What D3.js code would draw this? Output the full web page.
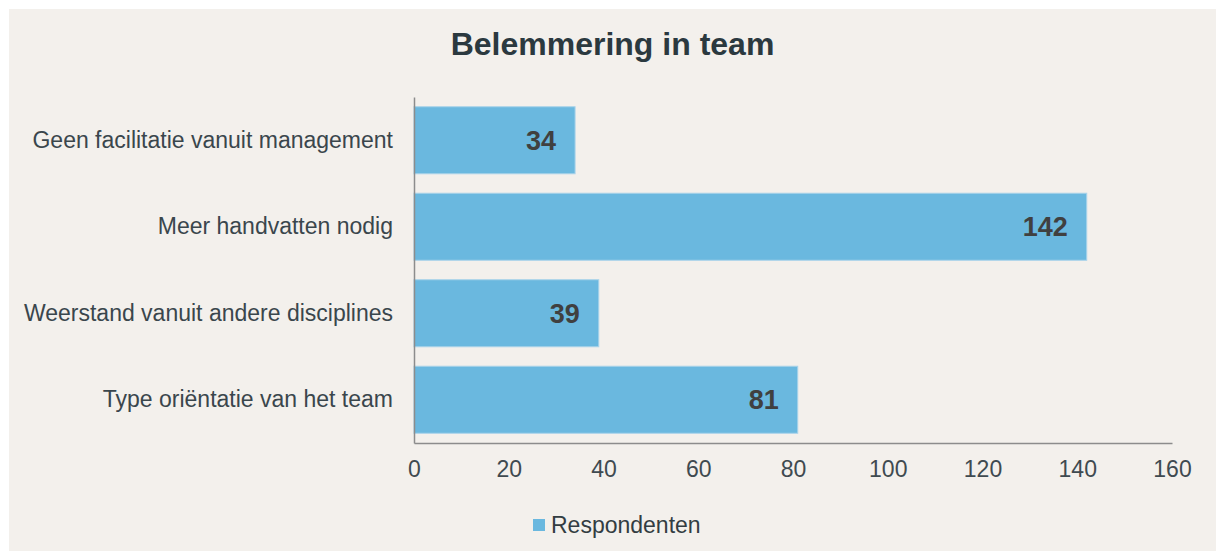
<!DOCTYPE html>
<html>
<head>
<meta charset="utf-8">
<script src="https://cdn.jsdelivr.net/npm/d3@7"></script>
<style>
  html, body { margin: 0; padding: 0; background: #ffffff; }
  svg { display: block; }
  text { font-family: "Liberation Sans", Arial, sans-serif; }
</style>
</head>
<body>
<svg id="chart" width="1216" height="551"></svg>
<script>
const title = "Belemmering in team";
const categories = [
  "Geen facilitatie vanuit management",
  "Meer handvatten nodig",
  "Weerstand vanuit andere disciplines",
  "Type oriëntatie van het team"
];
const values = [34, 142, 39, 81];
const seriesName = "Respondenten";
const xTicks = [0, 20, 40, 60, 80, 100, 120, 140, 160];

const W = 1216, H = 551;
const svg = d3.select("#chart");

svg.append("rect").attr("x", 9).attr("y", 9).attr("width", W - 9).attr("height", H - 9)
  .attr("fill", "#f3f0ec");

const plot = { left: 414, right: 1172, top: 97, bottom: 443 };

const x = d3.scaleLinear().domain([0, 160]).range([plot.left, plot.right]);
const y = d3.scaleBand().domain(categories).range([plot.top, plot.bottom]).paddingInner(0.225).paddingOuter(0.1125);

// title
svg.append("text").attr("x", 612.5).attr("y", 55).attr("text-anchor", "middle")
  .attr("font-size", 32).attr("font-weight", "bold").attr("fill", "#2b393f").text(title);

// bars
svg.append("g").selectAll("rect").data(categories).join("rect")
  .attr("x", x(0)).attr("y", d => y(d))
  .attr("width", (d, i) => x(values[i]) - x(0))
  .attr("height", y.bandwidth())
  .attr("fill", "#6ab8df").attr("stroke", "#a9d3ea").attr("stroke-width", 1);

// value labels
svg.append("g").selectAll("text").data(categories).join("text")
  .attr("x", (d, i) => x(values[i]) - 19)
  .attr("y", d => y(d) + y.bandwidth() / 2)
  .attr("dy", "0.35em").attr("text-anchor", "end")
  .attr("font-size", 27).attr("font-weight", "bold").attr("fill", "#404040")
  .text((d, i) => values[i]);

// x axis
const xAxis = d3.axisBottom(x).tickValues(xTicks).tickSize(0).tickPadding(18);
const gx = svg.append("g").attr("transform", `translate(0,${plot.bottom})`).call(xAxis);
gx.select(".domain").attr("stroke", "#8c8c8c").attr("stroke-width", 1.5);
gx.selectAll("text").attr("font-size", 23).attr("fill", "#3f4a50")
  .attr("font-family", "'Liberation Sans', Arial, sans-serif");

// y axis
const yAxis = d3.axisLeft(y).tickSize(0).tickPadding(21);
const gy = svg.append("g").attr("transform", `translate(${plot.left},0)`).call(yAxis);
gy.select(".domain").attr("stroke", "#8c8c8c").attr("stroke-width", 1.5);
gy.selectAll("text").attr("font-size", 23).attr("fill", "#3a464c")
  .attr("font-family", "'Liberation Sans', Arial, sans-serif");

// legend
const lg = svg.append("g");
lg.append("rect").attr("x", 533).attr("y", 519).attr("width", 12).attr("height", 12).attr("fill", "#6ab8df");
lg.append("text").attr("x", 551).attr("y", 525).attr("dy", "0.35em")
  .attr("font-size", 23).attr("fill", "#333d42").text(seriesName);
</script>
</body>
</html>
